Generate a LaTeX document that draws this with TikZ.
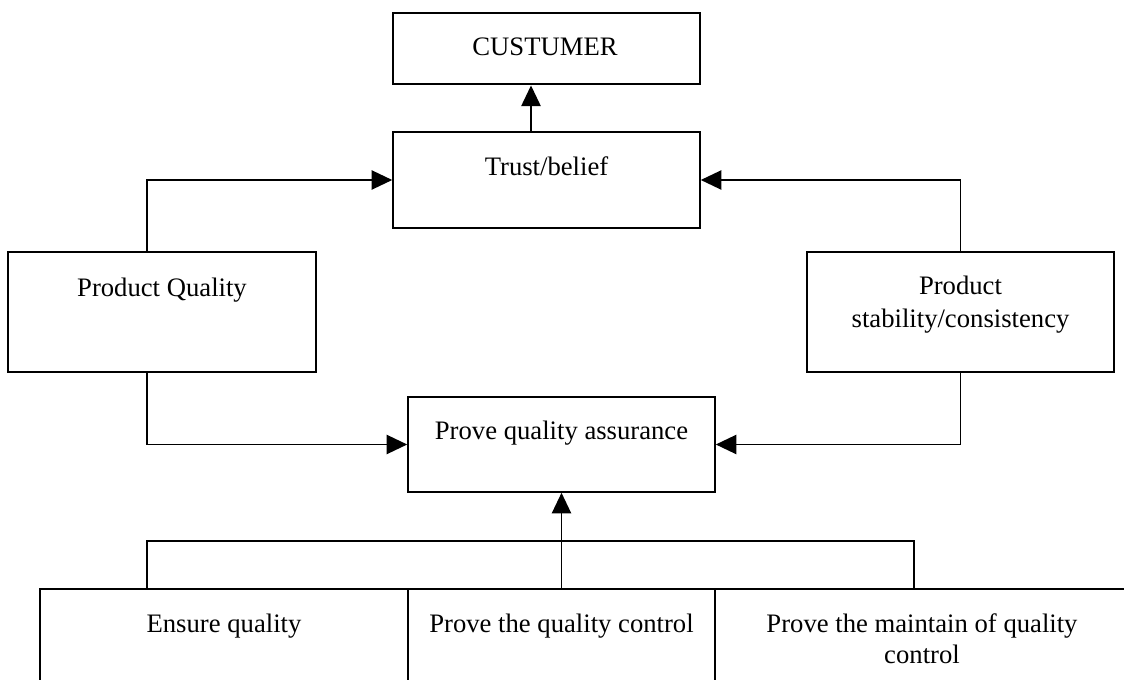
\documentclass[tikz,border=0pt]{standalone}
\usepackage{fontspec}
\setmainfont{Liberation Serif}
\usetikzlibrary{arrows.meta}
\begin{document}
\begin{tikzpicture}[x=0.75pt,y=-0.75pt,
  box/.style={draw, line width=1.2pt, inner sep=0pt, rectangle},
  heavybox/.style={draw, line width=2.2pt, inner sep=0pt, rectangle},
  txt/.style={inner sep=0pt, font=\fontsize{20}{24}\selectfont, align=center},
  conn/.style={line width=1.2pt},
  arr/.style={line width=1.2pt, -{Triangle[length=15.5pt,width=14.5pt]}}]
\clip (0,0) rectangle (1124,680);
\fill[white] (0,0) rectangle (1124,680);
% boxes
\node[heavybox, minimum width=307*0.75pt, minimum height=71*0.75pt] (cust) at (546.5,48.5) {};
\node[box, minimum width=307*0.75pt, minimum height=96*0.75pt] (trust) at (546.5,180) {};
\node[box, minimum width=308*0.75pt, minimum height=120*0.75pt] (pq) at (162,312) {};
\node[box, minimum width=307*0.75pt, minimum height=120*0.75pt] (ps) at (960.5,312) {};
\node[box, minimum width=307*0.75pt, minimum height=95*0.75pt] (pqa) at (561.5,444.5) {};
\node[box, minimum width=368*0.75pt, minimum height=140*0.75pt] (b1) at (224,659) {};
\node[box, minimum width=307*0.75pt, minimum height=140*0.75pt] (b2) at (561.5,659) {};
\node[box, minimum width=414*0.75pt, minimum height=140*0.75pt] (b3) at (922,659) {};
% texts
\node[txt, anchor=base] (custt) at (545,56) {CUSTUMER};
\node[txt, anchor=base] (trustt) at (546.5,176) {Trust/belief};
\node[txt, anchor=base] (pqt) at (162,297) {Product Quality};
\node[txt, anchor=base] (pst1) at (960.5,295) {Product};
\node[txt, anchor=base] (pst2) at (960.5,328) {stability/consistency};
\node[txt, anchor=base] (pqat) at (561.5,440) {Prove quality assurance};
\node[txt, anchor=base] (b1t) at (224,632) {Ensure quality};
\node[txt, anchor=base] (b2t) at (561.5,632) {Prove the quality control};
\node[txt, anchor=base] (b3t1) at (922,632) {Prove the maintain of quality};
\node[txt, anchor=base] (b3t2) at (922,663) {control};
% helper coordinates
\coordinate (xa) at (531,0);
\coordinate (xl) at (147,0);
\coordinate (xr) at (914,0);
\coordinate (bus) at (147,541);
% connectors
\draw[arr] (trust.north -| xa) -- (cust.south -| xa);
\draw[arr] (pq.north -| xl) |- (trust.west);
\draw[arr] (ps.north) |- (trust.east);
\draw[arr] (pq.south -| xl) |- (pqa.west);
\draw[arr] (ps.south) |- (pqa.east);
\draw[conn] (b1.north -| xl) -- (bus) -| (b3.north -| xr);
\draw[arr] (b2.north) -- (pqa.south);
\end{tikzpicture}
\end{document}
